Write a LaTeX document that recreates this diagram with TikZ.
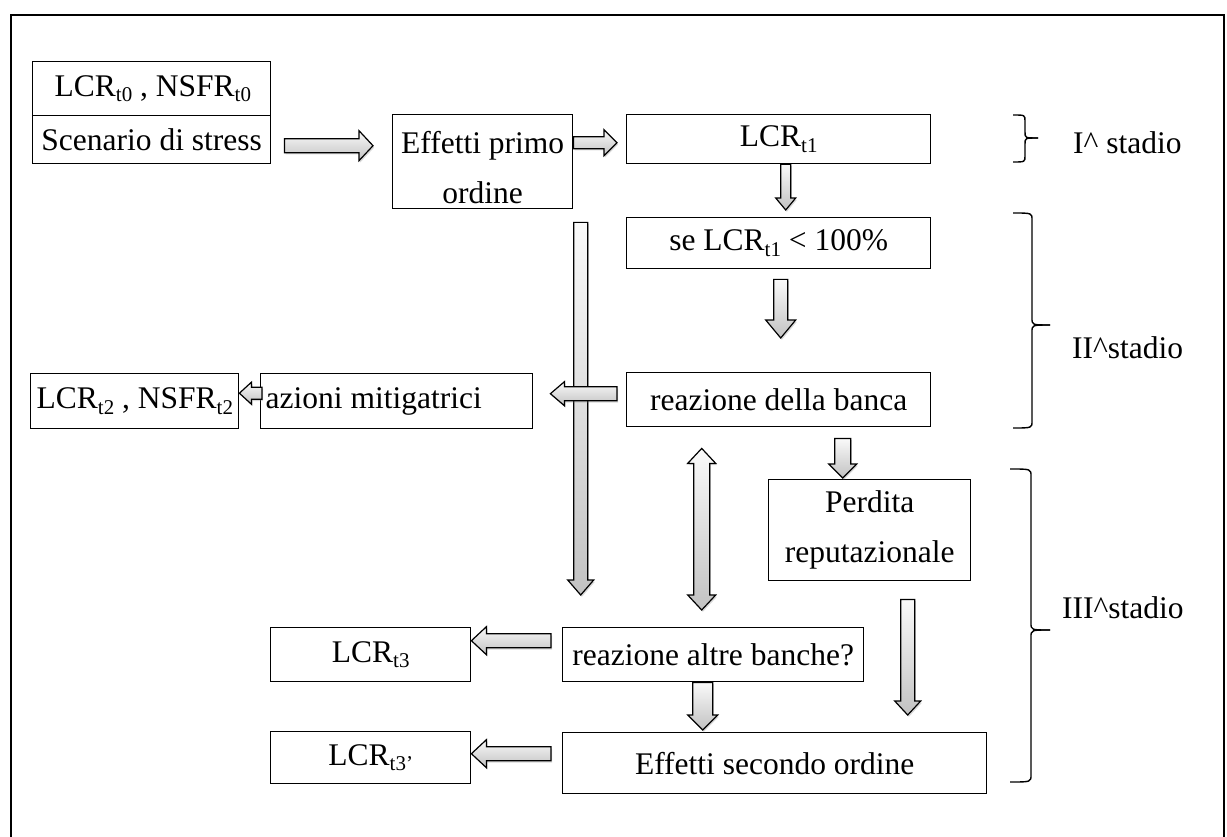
\documentclass[tikz,border=0pt]{standalone}
\usepackage{fontspec}
\setmainfont{Liberation Serif}
\usetikzlibrary{calc,shadows}

% small lowered index, as in LCR_t1
\newcommand\tsub[1]{\raisebox{-0.17em}{\fontsize{21}{21}\selectfont #1}}
% left-aligned text inside a box of fixed width: #1 width, #2 indent, #3 text
\newcommand\leftin[3]{\makebox[#1][l]{\hspace{#2}#3}}

% block arrows drawn as outlined, shaded polygons
% #1 start, #2 end, #3 half shaft width, #4 half head width, #5 head length
\newcommand\arrowRight[5]{\path[blockarrow] let \p1=(#1), \p2=(#2) in
  (\x1,\y1+#3) -- (\x2-#5,\y1+#3) -- (\x2-#5,\y1+#4) -- (\x2,\y1) --
  (\x2-#5,\y1-#4) -- (\x2-#5,\y1-#3) -- (\x1,\y1-#3) -- cycle;}
\newcommand\arrowLeft[5]{\path[blockarrow] let \p1=(#1), \p2=(#2) in
  (\x1,\y1+#3) -- (\x2+#5,\y1+#3) -- (\x2+#5,\y1+#4) -- (\x2,\y1) --
  (\x2+#5,\y1-#4) -- (\x2+#5,\y1-#3) -- (\x1,\y1-#3) -- cycle;}
\newcommand\arrowDown[5]{\path[blockarrow] let \p1=(#1), \p2=(#2) in
  (\x1-#3,\y1) -- (\x1-#3,\y2+#5) -- (\x1-#4,\y2+#5) -- (\x1,\y2) --
  (\x1+#4,\y2+#5) -- (\x1+#3,\y2+#5) -- (\x1+#3,\y1) -- cycle;}
\newcommand\arrowBoth[5]{\path[blockarrow] let \p1=(#1), \p2=(#2) in
  (\x1,\y1) -- (\x1+#4,\y1-#5) -- (\x1+#3,\y1-#5) -- (\x1+#3,\y2+#5) --
  (\x1+#4,\y2+#5) -- (\x1,\y2) -- (\x1-#4,\y2+#5) -- (\x1-#3,\y2+#5) --
  (\x1-#3,\y1-#5) -- (\x1-#4,\y1-#5) -- cycle;}

\tikzset{
  box/.style={draw, line width=1.4pt, inner sep=0pt, anchor=north west,
    align=center, font=\fontsize{31.5}{38}\selectfont},
  twoline/.style={font=\fontsize{31.5}{50}\selectfont},
  stage/.style={anchor=west, inner sep=0pt, font=\fontsize{31.5}{38}\selectfont},
  blockarrow/.style={draw, line width=1.2pt, line join=miter,
    top color=gray!4, bottom color=gray!48,
    drop shadow={opacity=0.3, shadow xshift=1.2pt, shadow yshift=-1.8pt}},
  brace/.style={line width=1.4pt},
  frame/.style={line width=1.6pt}
}

\begin{document}
\begin{tikzpicture}[x=1pt,y=-1pt]
\useasboundingbox (0,0) rectangle (1227,837);

% outer frame
\draw[frame] (11,837) -- (11,15) -- (1224,15) -- (1224,837);

% boxes
\node[box, minimum height=54pt] (lcr0) at (32,61)
  {\leftin{238pt}{22pt}{LCR\tsub{t0} , NSFR\tsub{t0}}};
\node[box, minimum width=238pt, minimum height=48pt] (scen) at (32,115) {Scenario di stress};
\node[box, twoline, minimum width=180pt, minimum height=94pt] (eff1) at (392,114)
  {\rule{0pt}{33pt}Effetti primo\\ordine};
\node[box, minimum width=304pt, minimum height=49pt] (lcr1) at (626,114) {LCR\tsub{t1}};
\node[box, minimum width=304pt, minimum height=51pt] (se) at (626,217) {se LCR\tsub{t1} < 100\%};
\node[box, minimum width=304pt, minimum height=54pt] (reaz) at (626,372) {reazione della banca};
\node[box, minimum height=55pt] (azioni) at (260,373)
  {\leftin{272pt}{5pt}{azioni mitigatrici}};
\node[box, minimum height=55pt] (lcr2) at (30,373)
  {\leftin{208pt}{6pt}{LCR\tsub{t2} , NSFR\tsub{t2}}};
\node[box, twoline, minimum width=202pt, minimum height=101pt] (perdita) at (768,479)
  {Perdita\\reputazionale};
\node[box, minimum width=301pt, minimum height=54pt] (altre) at (562,627) {reazione altre banche?};
\node[box, minimum width=200pt, minimum height=54pt] (lcr3) at (270,627) {LCR\tsub{t3}};
\node[box, minimum width=200pt, minimum height=52pt] (lcr3p) at (270,731) {LCR\tsub{t3’}};
\node[box, minimum width=424pt, minimum height=61pt] (sec) at (562,732) {Effetti secondo ordine};

% stage labels
\node[stage] (st1) at (1073,143) {I\^{} stadio};
\node[stage] (st2) at (1072,348) {II\^{}stadio};
\node[stage] (st3) at (1062,608) {III\^{}stadio};

% braces grouping the stages
\draw[brace] (1013,115) .. controls (1025,115) .. (1025,121) -- (1025,132)
  .. controls (1025,138) .. (1038,138);
\draw[brace] (1038,138) .. controls (1025,138) .. (1025,144) -- (1025,156)
  .. controls (1025,162) .. (1013,162);
\draw[brace] (1013,213) .. controls (1032,213) .. (1032,220) -- (1032,318)
  .. controls (1032,325) .. (1050,325);
\draw[brace] (1050,325) .. controls (1032,325) .. (1032,332) -- (1032,421)
  .. controls (1032,428) .. (1013,428);
\draw[brace] (1010,469) .. controls (1031,469) .. (1031,476) -- (1031,623)
  .. controls (1031,630) .. (1050,630);
\draw[brace] (1050,630) .. controls (1031,630) .. (1031,637) -- (1031,775)
  .. controls (1031,782) .. (1010,782);

% connectors
\arrowRight{$(scen.east)+(13,6)$}{$(eff1.west)+(-19,0)$}{7pt}{15pt}{14pt}
\arrowRight{$(eff1.east)+(0,-19)$}{$(lcr1.west)+(-9,0)$}{6pt}{13pt}{13pt}
\arrowDown{$(lcr1.south)+(7,0)$}{$(se.north)+(7,-7)$}{5pt}{10pt}{12pt}
\arrowDown{$(se.south)+(2,10)$}{$(reaz.north)+(2,-34)$}{7pt}{15pt}{18pt}
\arrowDown{$(eff1.south)+(98,13)$}{$(altre.north)+(0,-32)$}{7pt}{13pt}{15pt}
\arrowLeft{$(reaz.west)+(-9,-6)$}{$(azioni.east)+(17,0)$}{7pt}{12pt}{14pt}
\arrowLeft{$(azioni.west)+(2,-8)$}{lcr2.east}{6pt}{11pt}{12pt}
\arrowDown{$(reaz.south)+(64,11)$}{$(perdita.north)+(0,-1)$}{8pt}{14pt}{14pt}
\arrowBoth{$(reaz.south)+(-77,21)$}{$(altre.north)+(0,-17)$}{8pt}{14pt}{15pt}
\arrowDown{$(perdita.south)+(38,18)$}{$(sec.north)+(0,-17)$}{7pt}{13pt}{14pt}
\arrowLeft{$(altre.west)+(-11,-14)$}{lcr3.east}{7pt}{14pt}{15pt}
\arrowDown{$(altre.south)+(-10.5,0)$}{$(sec.north)+(0,-2)$}{10pt}{15pt}{15pt}
\arrowLeft{$(sec.west)+(-11,-9.5)$}{lcr3p.east}{7pt}{14pt}{15pt}
\end{tikzpicture}
\end{document}
